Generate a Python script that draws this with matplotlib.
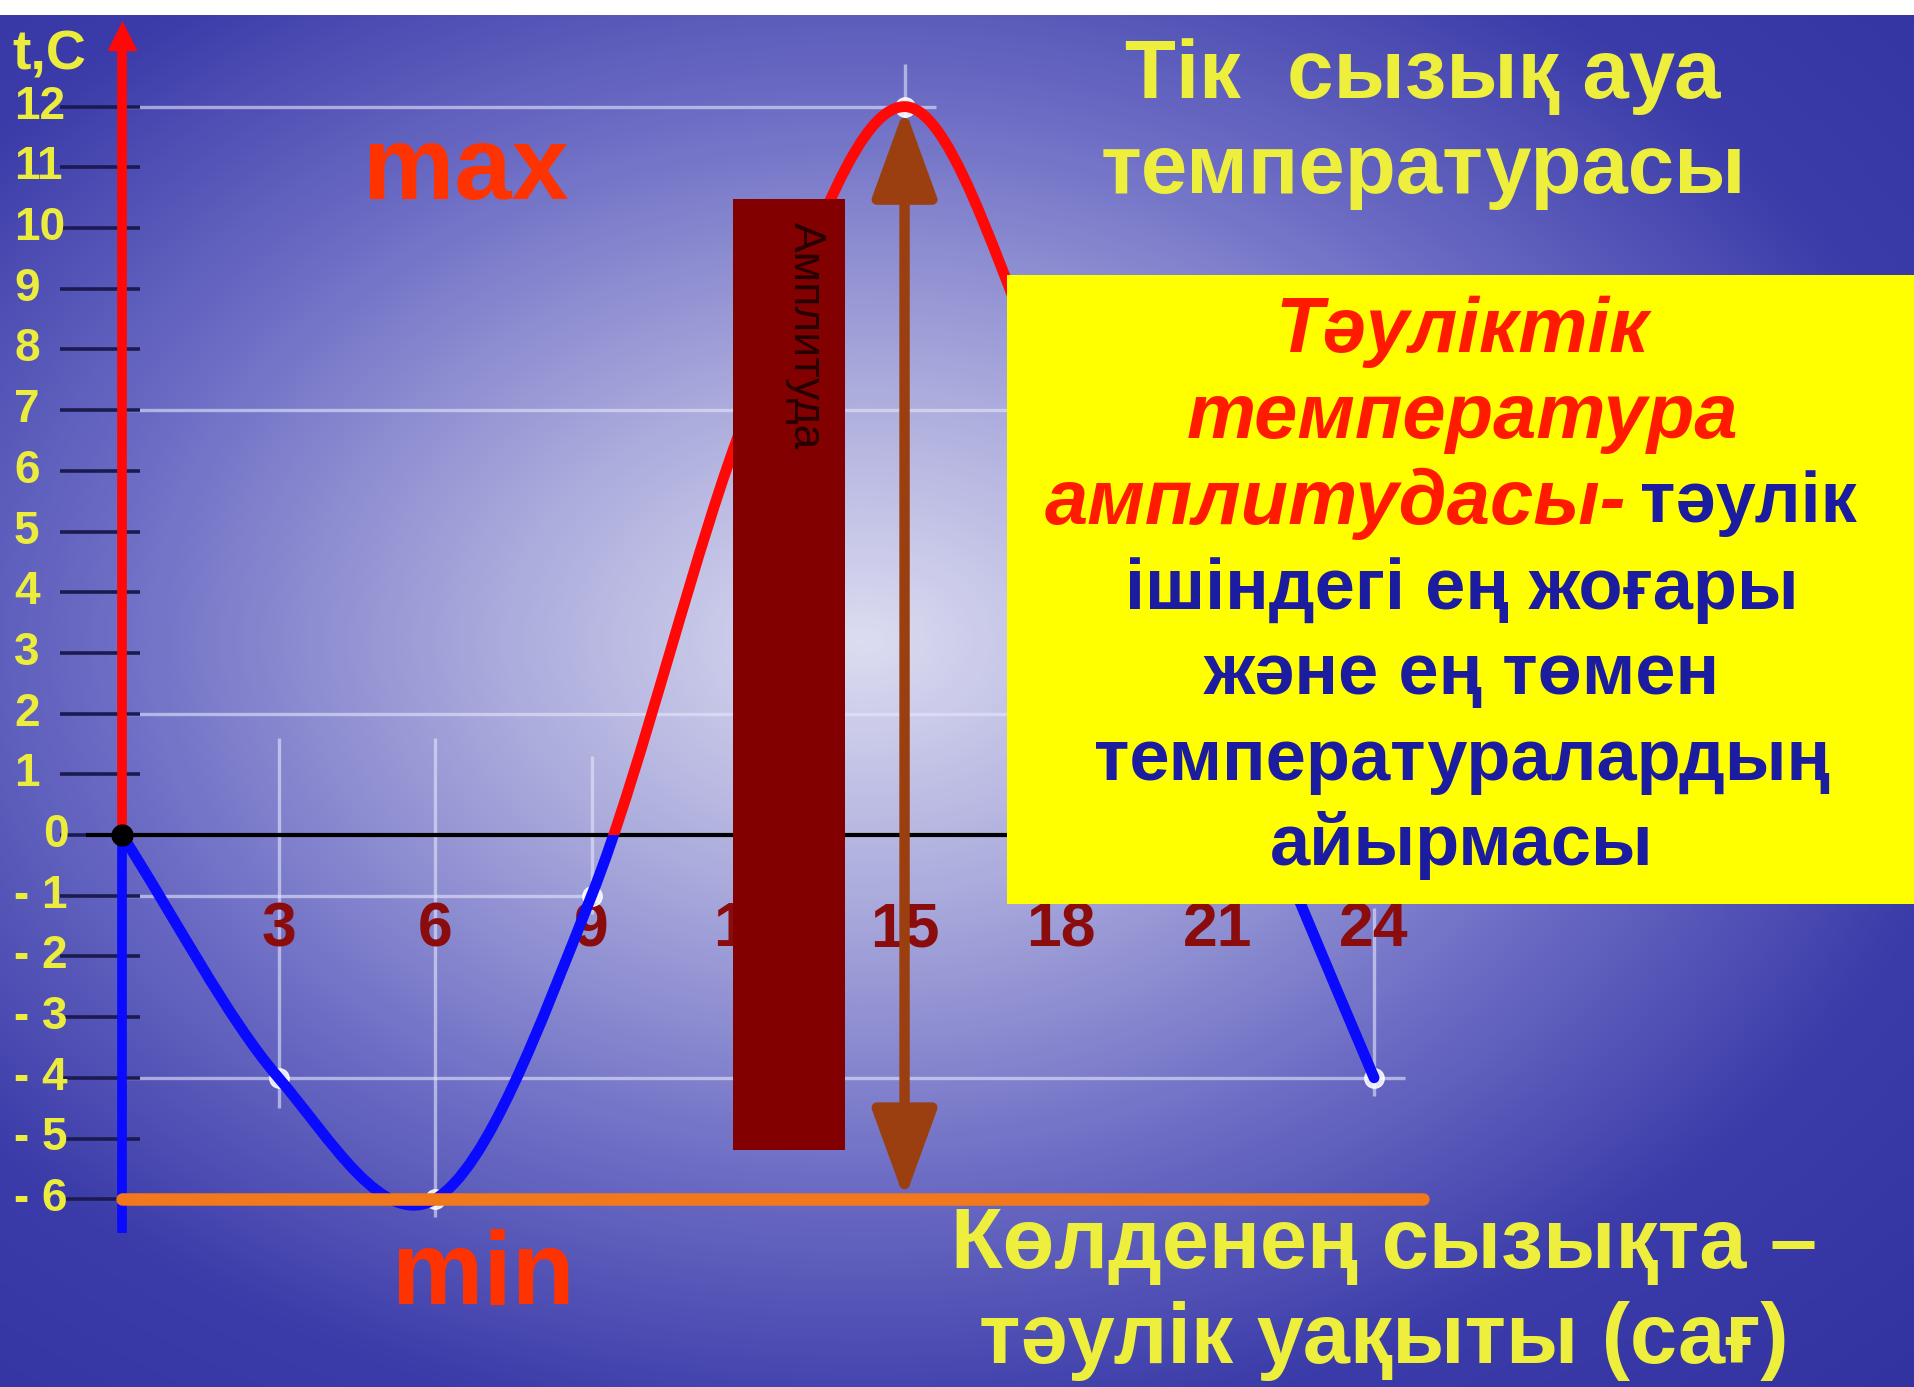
import numpy as np
import matplotlib
matplotlib.use("Agg")
import matplotlib.pyplot as plt
from matplotlib.path import Path
from matplotlib.patches import PathPatch, Rectangle, FancyArrowPatch, ArrowStyle
from matplotlib.colors import LinearSegmentedColormap

plt.rcParams["font.family"] = ["Liberation Sans", "DejaVu Sans"]

# ---- data -------------------------------------------------------------
hours = [0, 3, 6, 9, 12, 15, 18, 21, 24]          # time of day, h
temps = [0, -4, -6, -1, 7, 12, 7, 2, -4]          # air temperature, °C
hour_ticks = [3, 6, 9, 12, 15, 18, 21, 24]
temp_ticks = list(range(-6, 13))
temp_tick_labels = [str(v) if v >= 0 else f"- {-v}" for v in temp_ticks]

# ---- canvas / scale ---------------------------------------------------
W, H = 1915, 1387
X0, SX = 122, 52.17      # pixel of hour 0, pixels per hour
Y0, SY = 835, 60.7       # pixel of 0 °C, pixels per degree

fig = plt.figure(figsize=(W / 100, H / 100), dpi=100)
ax = fig.add_axes([0, 0, 1, 1])
xlim = (-X0 / SX, (W - X0) / SX)
ylim = (-(H - Y0) / SY, Y0 / SY)


def px(x):
    """horizontal pixel -> hours"""
    return (x - X0) / SX


def py(y):
    """vertical pixel (from top) -> degrees"""
    return (Y0 - y) / SY


def fx(x):
    return x / W


def fy(y):
    return 1 - y / H


# background: soft radial gradient
yy, xx = np.mgrid[0:H:4, 0:W:4]
rad = np.sqrt(((xx - 860) / 1150.0) ** 2 + ((yy - 640) / 820.0) ** 2)
bg = LinearSegmentedColormap.from_list(
    "bg", ["#dcdcf1", "#a9a9dc", "#6e6ec6", "#3b3ba9", "#3232a0"])
ax.imshow(rad, cmap=bg, vmin=0, vmax=1.3, extent=(*xlim, *ylim),
          origin="upper", aspect="auto", interpolation="bilinear", zorder=0)

# white strip on top of the slide
ax.add_patch(Rectangle((0, fy(15)), 1, 15 / H, transform=ax.transAxes,
                       fc="white", ec="none", zorder=30))

# ---- light guide lines ----------------------------------------------
guide_kw = dict(color="#e6e6fa", alpha=0.6, lw=2.4, zorder=2,
                solid_capstyle="butt")
h_guides = {12: 15.6, 7: 17.2, 2: 17.2, -1: 9.0, -4: 24.6}
for yv, xend in h_guides.items():
    ax.plot([0, xend], [yv, yv], **guide_kw)
v_guides = {3: (1.6, -4.5), 6: (1.6, -6.3), 9: (1.3, -1.3),
            15: (12.7, 11.0), 24: (-1.2, -4.3)}
for xv, (ytop, ybot) in v_guides.items():
    ax.plot([xv, xv], [ytop, ybot], **guide_kw)

# ---- y axis ticks & labels -------------------------------------------
for v, lab in zip(temp_ticks, temp_tick_labels):
    ax.plot([px(60), px(140)], [v, v], color="#1b1b52", lw=2.6, zorder=3,
            solid_capstyle="butt")
    xl = px(43) if v == 0 else px(14)
    ax.text(xl, v, lab, ha="left", va="center", fontsize=33,
            fontweight="bold", color="#ecec3c", zorder=4)

ax.text(px(12), py(70), "t,C", ha="left", va="baseline", fontsize=40,
        fontweight="bold", color="#ecec3c", zorder=4)

# zero line
ax.plot([px(88), 17.5], [0, 0], color="black", lw=3, zorder=3)

# hour labels
for hv in hour_ticks:
    ax.text(hv, py(930), str(hv), ha="center", va="center", fontsize=45,
            fontweight="bold", color="#8a0c0c", zorder=4)

# ---- temperature curve (smooth Hermite segments) -----------------------
x = np.asarray(hours, float)
y = np.asarray(temps, float)
slope = np.gradient(y, x)
verts = [(x[0], y[0])]
codes = [Path.MOVETO]
for i in range(len(x) - 1):
    h = x[i + 1] - x[i]
    verts += [(x[i] + h / 3, y[i] + slope[i] * h / 3),
              (x[i + 1] - h / 3, y[i + 1] - slope[i + 1] * h / 3),
              (x[i + 1], y[i + 1])]
    codes += [Path.CURVE4] * 3
curve = Path(verts, codes)

# point markers (white halo)
ax.plot(hours[1:6] + hours[-1:], temps[1:6] + temps[-1:], "o", ms=14,
        mfc="white", mec="white", alpha=0.85, zorder=5)

big = 100
for color, y_from in (("#ff0808", 0), ("#0a0aff", -big)):
    clip = Rectangle((xlim[0], y_from), big, big, transform=ax.transData)
    patch = PathPatch(curve, fill=False, ec=color, lw=7.8, zorder=6,
                      capstyle="round", joinstyle="round")
    ax.add_patch(patch)
    patch.set_clip_path(clip)

# vertical axis: red above zero, blue below, arrow on top
ax.plot([0, 0], [0, py(45)], color="#ff0808", lw=7, zorder=6,
        solid_capstyle="butt")
ax.plot(0, py(36), marker="^", ms=20, color="#ff0808", zorder=6)
ax.plot([0, 0], [0, py(1233)], color="#0a0aff", lw=7, zorder=6,
        solid_capstyle="butt")
ax.plot(0, 0, "o", ms=15, color="black", zorder=8)

# minimum level line
t_min, t_max = min(temps), max(temps)
h_max = hours[temps.index(t_max)]
ax.plot([0, 24.94], [t_min, t_min], color="#f2781e", lw=9, zorder=7,
        solid_capstyle="round")

# ---- amplitude bar and arrow -----------------------------------------
ax.add_patch(Rectangle((px(733), py(1150)), (845 - 733) / SX,
                       (1150 - 199) / SY, fc="#820000", ec="none", zorder=9))
ax.text(px(805), py(336), "Амплитуда", rotation=-90, ha="center",
        va="center", fontsize=32, color="#260000", zorder=10)

arrow = FancyArrowPatch(
    (h_max, t_min), (h_max, t_max),
    arrowstyle=ArrowStyle("<|-|>", head_length=0.55, head_width=0.2),
    mutation_scale=100, color="#9c3f10", lw=7.5, shrinkA=0, shrinkB=1,
    zorder=10)
ax.add_patch(arrow)

# ---- max / min ------------------------------------------------------
ax.text(px(466), py(199), "max", ha="center", va="baseline", fontsize=74,
        fontweight="bold", color="#ff3300", zorder=5)
ax.text(px(483), py(1304), "min", ha="center", va="baseline", fontsize=74,
        fontweight="bold", color="#ff3300", zorder=5)

# ---- titles ------------------------------------------------------------
yellow = "#eeee3c"
for txt, yc in (("Тік  сызық ауа", 76), ("температурасы", 171)):
    ax.text(fx(1423), fy(yc), txt, transform=ax.transAxes, ha="center",
            va="center", fontsize=60, fontweight="bold", color=yellow,
            zorder=12)
for txt, yc in (("Көлденең сызықта –", 1246),
                ("тәулік уақыты (сағ)", 1341)):
    ax.text(fx(1384), fy(yc), txt, transform=ax.transAxes, ha="center",
            va="center", fontsize=61, fontweight="bold", color=yellow,
            zorder=12)

# ---- definition box --------------------------------------------------
ax.add_patch(Rectangle((fx(1007), fy(904)), 1 - fx(1007), (904 - 275) / H,
                       transform=ax.transAxes, fc="#ffff00", ec="none",
                       zorder=13))
red_kw = dict(transform=ax.transAxes, va="center", fontsize=56,
              fontweight="bold", fontstyle="italic", color="#ff1a00",
              zorder=14)
blue_kw = dict(transform=ax.transAxes, va="center", fontsize=52,
               fontweight="bold", color="#1c1ca0", zorder=14)
ax.text(fx(1462), fy(332), "Тәуліктік", ha="center", **red_kw)
ax.text(fx(1462), fy(418), "температура", ha="center", **red_kw)
ax.text(fx(1626), fy(503), "амплитудасы-", ha="right", **red_kw)
ax.text(fx(1640), fy(503), "тәулік", ha="left", **blue_kw)
for txt, yc in (("ішіндегі ең жоғары", 590), ("және ең төмен", 675),
                ("температуралардың", 761), ("айырмасы", 846)):
    ax.text(fx(1462), fy(yc), txt, ha="center", **blue_kw)

ax.set_xlim(*xlim)
ax.set_ylim(*ylim)
ax.axis("off")
fig.savefig("out.png", dpi=100)
